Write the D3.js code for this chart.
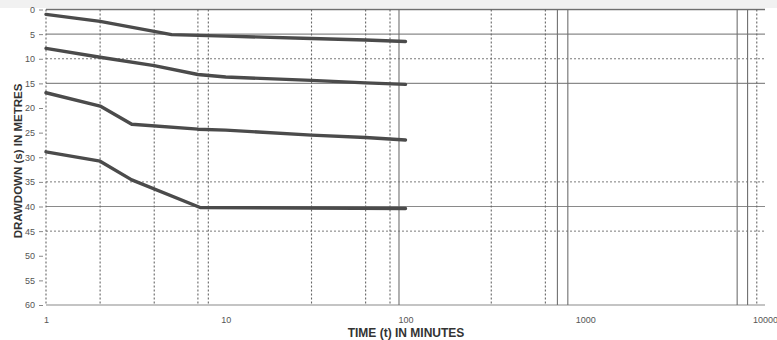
<!DOCTYPE html>
<html>
<head>
<meta charset="utf-8">
<script src="https://cdn.jsdelivr.net/npm/d3@7"></script>
<style>
  body { margin: 0; background: #fff; }
  svg { display: block; font-family: "Liberation Sans", Arial, sans-serif; }
</style>
</head>
<body>
<div id="js-chart"></div>
<script>
//  Chart data
var xTicks = [1, 10, 100, 1000, 10000];
var yTicks = [0, 5, 10, 15, 20, 25, 30, 35, 40, 45, 50, 55, 60];

// grid lines as they appear on the scan
var xGridDotted = [1, 2, 4, 7, 8, 30, 60, 82, 300, 600, 9000];
var xGridSolid = [92, 700, 800, 7000, 8000];
var yGridSolid = [0, 5, 15, 40, 60];
var yGridDotted = [10, 35, 45];

// four pumping steps: time (min) and drawdown (m)
var times1 = [1, 2, 5, 10, 30, 60, 100];
var drawdown1 = [1.0, 2.4, 5.1, 5.4, 5.9, 6.2, 6.5];

var times2 = [1, 2, 4, 7, 10, 30, 60, 100];
var drawdown2 = [7.9, 9.7, 11.4, 13.2, 13.7, 14.4, 14.9, 15.2];

var times3 = [1, 2, 3, 7, 10, 30, 60, 100];
var drawdown3 = [16.9, 19.6, 23.3, 24.3, 24.5, 25.5, 26.0, 26.5];

var times4 = [1, 2, 3, 7.2, 100];
var drawdown4 = [28.9, 30.8, 34.6, 40.2, 40.4];

var seriesTimes = [times1, times2, times3, times4];
var seriesDrawdown = [drawdown1, drawdown2, drawdown3, drawdown4];

// ---------------------------------------------------------------------------------- //

var width = 777;
var height = 340;

var svg = d3.select("#js-chart")
  .append("svg")
  .attr("width", width)
  .attr("height", height);

var x = d3.scaleLog()
  .domain([1, 10000])
  .range([46, 765]);

var y = d3.scaleLinear()
  .domain([0, 60])
  .range([9.5, 305]);

//  scan shade along the top edge
svg.append("rect")
  .attr("x", 0)
  .attr("y", 0)
  .attr("width", width)
  .attr("height", 8)
  .attr("fill", "#f1f1f1");

// ---------------------------------------------------------------------------------- //
//  Grid

svg.selectAll(".ygrid-solid")
  .data(yGridSolid)
  .enter().append("line")
  .attr("x1", x(1))
  .attr("x2", x(10000))
  .attr("y1", function(d) { return y(d); })
  .attr("y2", function(d) { return y(d); })
  .attr("stroke", function(d) { return d == 0 ? "#6f6f6f" : "#8a8a8a"; })
  .attr("stroke-width", function(d) { return d == 0 ? 1.6 : 1.1; });

svg.selectAll(".ygrid-dotted")
  .data(yGridDotted)
  .enter().append("line")
  .attr("x1", x(1))
  .attr("x2", x(10000))
  .attr("y1", function(d) { return y(d); })
  .attr("y2", function(d) { return y(d); })
  .attr("stroke", "#7a7a7a")
  .attr("stroke-width", 1)
  .attr("stroke-dasharray", "2,2");

svg.selectAll(".xgrid-dotted")
  .data(xGridDotted)
  .enter().append("line")
  .attr("x1", function(d) { return x(d); })
  .attr("x2", function(d) { return x(d); })
  .attr("y1", y(0))
  .attr("y2", y(60))
  .attr("stroke", "#666")
  .attr("stroke-width", 1.1)
  .attr("stroke-dasharray", "2,2");

svg.selectAll(".xgrid-solid")
  .data(xGridSolid)
  .enter().append("line")
  .attr("x1", function(d) { return x(d); })
  .attr("x2", function(d) { return x(d); })
  .attr("y1", y(0))
  .attr("y2", y(60))
  .attr("stroke", "#707070")
  .attr("stroke-width", 1.1);

// ---------------------------------------------------------------------------------- //
//  Axes

var yAxis = d3.axisLeft(y)
  .tickValues(yTicks)
  .tickSize(4)
  .tickPadding(4);

svg.append("g")
  .attr("transform", "translate(43,0)")
  .call(yAxis)
  .call(function(g) { g.select(".domain").remove(); })
  .call(function(g) {
    g.selectAll("line").attr("stroke", "#888");
    g.selectAll("text").attr("fill", "#555").style("font-size", "9px");
  });

var xAxis = d3.axisBottom(x)
  .tickValues(xTicks)
  .tickFormat(d3.format("d"))
  .tickSize(0)
  .tickPadding(12);

svg.append("g")
  .attr("transform", "translate(0," + y(60) + ")")
  .call(xAxis)
  .call(function(g) { g.select(".domain").remove(); })
  .call(function(g) {
    g.selectAll("text").attr("fill", "#555").style("font-size", "9px");
  });

//  Axis titles
svg.append("text")
  .attr("transform", "translate(22,161) rotate(-90)")
  .attr("text-anchor", "middle")
  .attr("fill", "#333")
  .style("font-size", "11.5px")
  .style("font-weight", "bold")
  .text("DRAWDOWN (s) IN METRES");

svg.append("text")
  .attr("x", 406)
  .attr("y", 337)
  .attr("text-anchor", "middle")
  .attr("fill", "#333")
  .style("font-size", "12px")
  .style("font-weight", "bold")
  .text("TIME (t) IN MINUTES");

// ---------------------------------------------------------------------------------- //
//  Drawdown curves

var line = d3.line()
  .x(function(d) { return x(d[0]); })
  .y(function(d) { return y(d[1]); });

for (var i = 0; i < seriesTimes.length; i++)
{
  var pts = d3.zip(seriesTimes[i], seriesDrawdown[i]);

  svg.append("path")
    .datum(pts)
    .attr("d", line)
    .attr("fill", "none")
    .attr("stroke", "#4b4b4b")
    .attr("stroke-width", 3.4)
    .attr("stroke-linejoin", "round")
    .attr("stroke-linecap", "round");
}
</script>
</body>
</html>
